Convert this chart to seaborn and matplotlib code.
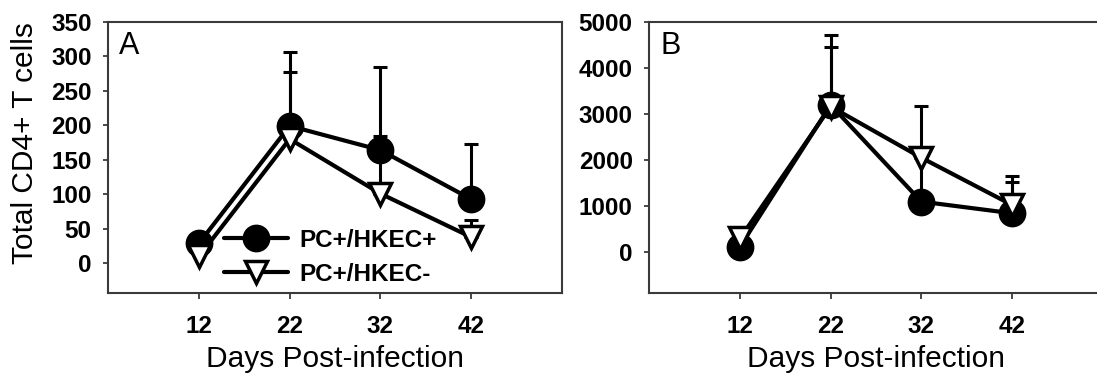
import numpy as np
import pandas as pd
import matplotlib
matplotlib.use("Agg")
import matplotlib.pyplot as plt
import seaborn as sns

# ---- data ----
days = [12, 22, 32, 42]
series_names = ["PC+/HKEC+", "PC+/HKEC-"]

a_pos = [29, 199, 164, 93]
a_pos_top = [29, 306, 285, 173]
a_neg = [10, 180, 101, 38]
a_neg_top = [10, 277, 184, 62]

b_pos = [121, 3195, 1098, 846]
b_pos_top = [121, 4714, 2150, 1531]
b_neg = [300, 3160, 2050, 1026]
b_neg_top = [300, 4460, 3174, 1662]

a_yticks = [0, 50, 100, 150, 200, 250, 300, 350]
b_yticks = [0, 1000, 2000, 3000, 4000, 5000]

sns.set_theme(style="ticks")
plt.rcParams["font.family"] = ["Liberation Sans", "DejaVu Sans"]
plt.rcParams["text.color"] = "black"
plt.rcParams["axes.labelcolor"] = "black"
plt.rcParams["xtick.labelcolor"] = "black"
plt.rcParams["ytick.labelcolor"] = "black"

fig = plt.figure(figsize=(10.97, 3.75), dpi=100)
axA = fig.add_axes([108.3 / 1097, 81.7 / 375, 453.4 / 1097, 271.6 / 375])
axB = fig.add_axes([649.3 / 1097, 81.7 / 375, 453.4 / 1097, 271.6 / 375])

spine_col = "#3a3a3a"
TICK_FS = 17.5
LABEL_FS = 21.5


def draw(ax, pos, pos_top, neg, neg_top, ylim, yticks, letter):
    x = np.array(days)
    for vals, tops, mk, fc, lab, z in [
        (pos, pos_top, "o", "black", series_names[0], 3),
        (neg, neg_top, "v", "white", series_names[1], 5),
    ]:
        vals = np.array(vals, dtype=float)
        tops = np.array(tops, dtype=float)
        up = tops - vals
        mask = up > 0
        ax.errorbar(x[mask], vals[mask], yerr=[np.zeros(mask.sum()), up[mask]],
                    fmt="none", ecolor="black", elinewidth=2.2, capsize=5.2,
                    capthick=2.2, zorder=z)
        df = pd.DataFrame({"day": x, "val": vals})
        sns.lineplot(data=df, x="day", y="val", ax=ax, color="black",
                     linewidth=3, marker=mk, markersize=17.5 if mk == "o" else 16.5,
                     markerfacecolor=fc, markeredgecolor="black",
                     markeredgewidth=2.5, label=lab, zorder=z + 1,
                     legend=False)
    ax.set_xlim(2, 52)
    ax.set_ylim(*ylim)
    ax.set_xticks(days)
    ax.set_xticklabels([str(d) for d in days])
    ax.set_yticks(yticks)
    ax.set_yticklabels([str(t) for t in yticks])
    for lbl in ax.get_xticklabels() + ax.get_yticklabels():
        lbl.set_fontweight("bold")
        lbl.set_fontsize(TICK_FS)
        lbl.set_color("black")
    ax.tick_params(axis="x", direction="out", length=4.3, width=1.3,
                   color=spine_col, pad=11.5)
    ax.tick_params(axis="y", direction="out", length=3.6, width=1.3,
                   color=spine_col, pad=8.4)
    for s in ax.spines.values():
        s.set_visible(True)
        s.set_color(spine_col)
        s.set_linewidth(1.5)
    ax.set_xlabel("Days Post-infection", fontsize=LABEL_FS, color="black",
                  labelpad=5)
    ax.set_ylabel("")
    ax.text(0.024, 0.965, letter, transform=ax.transAxes, fontsize=22,
            va="top", ha="left", color="black")
    ax.set_facecolor("white")


draw(axA, a_pos, a_pos_top, a_neg, a_neg_top, (-43.5, 350), a_yticks, "A")
draw(axB, b_pos, b_pos_top, b_neg, b_neg_top, (-890, 5000), b_yticks, "B")

axA.set_ylabel("Total CD4+ T cells", fontsize=LABEL_FS, color="black")
axA.yaxis.set_label_coords(-0.153, 0.553)

hl = [l for l in axA.lines if l.get_label() in series_names]
leg = axA.legend(handles=hl, labels=[h.get_label() for h in hl], loc="upper left",
                 bbox_to_anchor=(0.256, 0.238), frameon=False, borderpad=0,
                 borderaxespad=0, handlelength=2.6, handletextpad=0.47,
                 labelspacing=0.45, prop={"weight": "bold", "size": 17.5})
for t in leg.get_texts():
    t.set_color("black")

fig.savefig("out.png", dpi=100, facecolor="white")
